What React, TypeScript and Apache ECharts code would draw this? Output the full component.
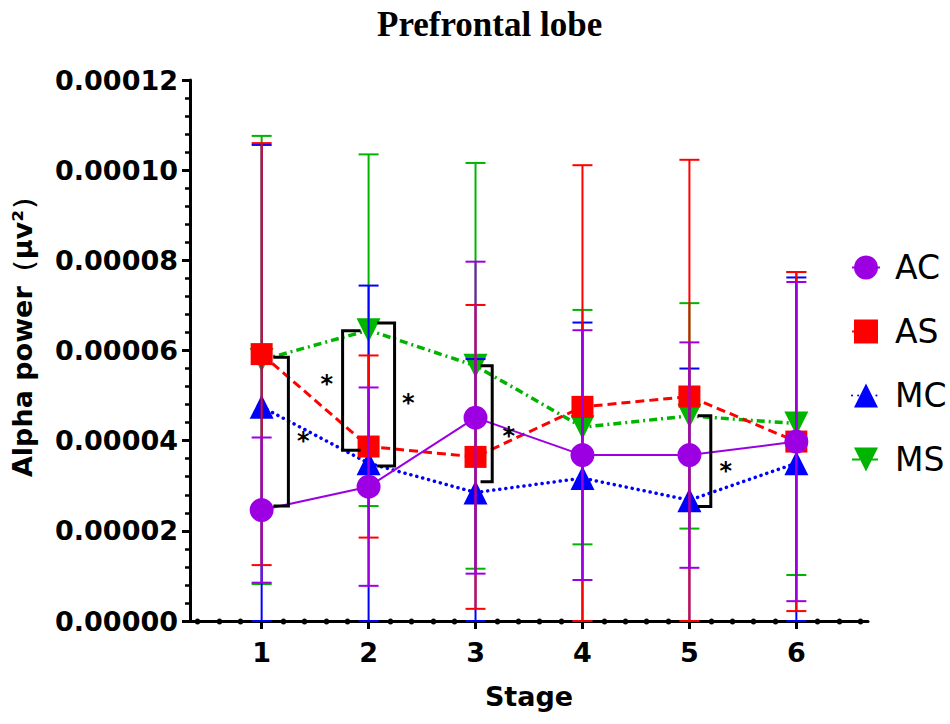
import React, { useEffect, useRef } from "react";
import * as echarts from "echarts";

// ---- data ----
const stages = [1, 2, 3, 4, 5, 6];
const groupNames = ["AC", "AS", "MC", "MS"];
const acMean = [2.46e-5, 2.98e-5, 4.51e-5, 3.68e-5, 3.68e-5, 3.98e-5];
const acSd = [1.61e-5, 2.2e-5, 3.46e-5, 2.77e-5, 2.5e-5, 3.54e-5];
const asMean = [5.92e-5, 3.87e-5, 3.64e-5, 4.75e-5, 4.98e-5, 3.98e-5];
const asSd = [4.68e-5, 2.02e-5, 3.37e-5, 5.36e-5, 5.25e-5, 3.76e-5];
const mcMean = [4.75e-5, 3.5e-5, 2.85e-5, 3.17e-5, 2.68e-5, 3.5e-5];
const mcSd = [5.81e-5, 3.94e-5, 2.96e-5, 3.45e-5, 2.92e-5, 4.12e-5];
const msMean = [5.79e-5, 6.45e-5, 5.66e-5, 4.3e-5, 4.55e-5, 4.38e-5];
const msSd = [4.97e-5, 3.9e-5, 4.5e-5, 2.6e-5, 2.5e-5, 3.36e-5];

// significance brackets: [xVertical, xEnd, yTop, yBottom, xStar, yStar]
const brackets = [
  [1.25, 1.11, 5.85e-5, 2.55e-5, 1.39, 4.13e-5],
  [1.757, 1.925, 6.44e-5, 3.79e-5, 1.61, 5.39e-5],
  [2.243, 2.08, 6.61e-5, 3.44e-5, 2.37, 4.97e-5],
  [3.156, 3.047, 5.66e-5, 3.09e-5, 3.31, 4.24e-5],
  [5.2, 5.08, 4.55e-5, 2.54e-5, 5.34, 3.46e-5],
];

const yTickMax = 0.00012;
const yTickStep = 0.00002;
const xMin = 0.33;
const xMax = 6.67;
const xMinorTicks = [0.4, 0.6, 0.8, 1.2, 1.4, 1.6, 1.8, 2.2, 2.4, 2.6, 2.8, 3.2, 3.4, 3.6, 3.8, 4.2, 4.4, 4.6, 4.8, 5.2, 5.4, 5.6, 5.8, 6.2, 6.4, 6.6];

const colors = { AC: "#9C00E2", AS: "#FF0000", MC: "#0000FF", MS: "#00B400" };
const FONT = "DejaVu Sans";

export default function App() {
  const ref = useRef<HTMLDivElement>(null);
  useEffect(() => {
    if (!ref.current) return;
    const chart = echarts.init(ref.current, undefined, { renderer: "svg" });

    const errSeries = (name: string, mean: number[], sd: number[], z: number) => ({
      type: "custom",
      z,
      xAxisIndex: 0,
      yAxisIndex: 0,
      silent: true,
      encode: { x: 0, y: [1, 2] },
      data: stages.map((s, i) => [s, Math.max(0, mean[i] - sd[i]), mean[i] + sd[i]]),
      renderItem: (params: any, api: any) => {
        const x = api.value(0);
        const lo = api.coord([x, api.value(1)]);
        const hi = api.coord([x, api.value(2)]);
        const w = 10;
        const st = { stroke: (colors as any)[name], lineWidth: 2 };
        return {
          type: "group",
          children: [
            { type: "line", shape: { x1: lo[0], y1: lo[1], x2: hi[0], y2: hi[1] }, style: st },
            { type: "line", shape: { x1: hi[0] - w, y1: hi[1], x2: hi[0] + w, y2: hi[1] }, style: st },
            { type: "line", shape: { x1: lo[0] - w, y1: lo[1], x2: lo[0] + w, y2: lo[1] }, style: st },
          ],
        };
      },
    });

    const lineSeries = (name: string, mean: number[], z: number, symbol: string, size: number, ls: any, rotate = 0) => ({
      type: "line",
      name,
      z,
      data: stages.map((s, i) => [s, mean[i]]),
      symbol,
      symbolSize: size,
      symbolRotate: rotate,
      showAllSymbol: true,
      itemStyle: { color: (colors as any)[name], opacity: 1 },
      lineStyle: { color: (colors as any)[name], ...ls },
      emphasis: { disabled: true },
    });

    const option: any = {
      animation: false,
      title: {
        text: "Prefrontal lobe",
        left: 372,
        top: 2,
        textStyle: { fontFamily: "Liberation Serif", fontWeight: "bold", fontSize: 35, color: "#000" },
      },
      legend: {
        orient: "vertical",
        left: 846,
        top: 246,
        itemWidth: 28,
        itemHeight: 30,
        itemGap: 31,
        data: groupNames,
        textStyle: { fontFamily: FONT, fontSize: 33, color: "#000", padding: [0, 0, 0, 10] },
        selectedMode: false,
      },
      grid: { left: 190, top: 80, right: 82, bottom: 103 },
      xAxis: [
        {
          type: "value",
          min: xMin,
          max: xMax,
          name: "Stage",
          nameLocation: "middle",
          nameGap: 62,
          nameTextStyle: { fontFamily: FONT, fontWeight: "bold", fontSize: 27, color: "#000" },
          axisLine: { show: true, onZero: false, lineStyle: { color: "#000", width: 3 } },
          axisTick: { show: true, customValues: stages, length: 8, lineStyle: { color: "#000", width: 3 } },
          axisLabel: {
            customValues: stages,
            margin: 18,
            fontFamily: FONT,
            fontWeight: "bold",
            fontSize: 27,
            color: "#000",
            formatter: (v: number) => String(Math.round(v)),
          },
          splitLine: { show: false },
        },
        {
          type: "value",
          min: xMin,
          max: xMax,
          position: "bottom",
          offset: 0,
          axisLine: { show: false, onZero: false },
          axisTick: { show: true, customValues: xMinorTicks, length: 1, lineStyle: { color: "#000", width: 5, cap: "round" } },
          axisLabel: { show: false },
          splitLine: { show: false },
        },
      ],
      yAxis: {
        type: "value",
        min: 0,
        max: yTickMax,
        interval: yTickStep,
        axisLine: { show: true, lineStyle: { color: "#000", width: 3 } },
        axisTick: { show: true, length: 8, lineStyle: { color: "#000", width: 3 } },
        minorTick: { show: true, splitNumber: 5, length: 5, lineStyle: { color: "#000", width: 2.5 } },
        axisLabel: {
          margin: 12,
          fontFamily: FONT,
          fontWeight: "bold",
          fontSize: 27,
          color: "#000",
          formatter: (v: number) => v.toFixed(5),
        },
        splitLine: { show: false },
      },
      graphic: [
        {
          type: "text",
          x: 22,
          y: 330,
          rotation: Math.PI / 2,
          style: {
            text: "Alpha power（μv²）",
            fontFamily: FONT,
            fontWeight: "bold",
            fontSize: 27,
            fill: "#000",
            align: "center",
            verticalAlign: "middle",
          },
        },
      ],
      series: [
        errSeries("MS", msMean, msSd, 2),
        lineSeries("MS", msMean, 2, "triangle", 24, { width: 3.5, type: [8, 4, 2, 4] }, 180),
        errSeries("MC", mcMean, mcSd, 3),
        lineSeries("MC", mcMean, 3, "triangle", 24, { width: 3.5, type: [0.1, 6], cap: "round" }),
        errSeries("AS", asMean, asSd, 4),
        lineSeries("AS", asMean, 4, "rect", 22, { width: 3, type: [9, 5] }),
        errSeries("AC", acMean, acSd, 5),
        lineSeries("AC", acMean, 5, "circle", 24, { width: 2, type: "solid" }),
        {
          type: "custom",
          z: 6,
          silent: true,
          encode: { x: [0, 1, 4], y: [2, 3, 5] },
          data: brackets,
          renderItem: (params: any, api: any) => {
            const xv = api.value(0), xe = api.value(1), yt = api.value(2), yb = api.value(3);
            const a = api.coord([xe, yt]);
            const b = api.coord([xv, yt]);
            const c = api.coord([xv, yb]);
            const d = api.coord([xe, yb]);
            const s = api.coord([api.value(4), api.value(5)]);
            return {
              type: "group",
              children: [
                { type: "polyline", shape: { points: [a, b, c, d] }, style: { stroke: "#000", lineWidth: 3, fill: "none" } },
                {
                  type: "text",
                  x: s[0],
                  y: s[1] + 6,
                  style: { text: "*", fontFamily: FONT, fontWeight: "bold", fontSize: 24, fill: "#000", align: "center", verticalAlign: "middle" },
                },
              ],
            };
          },
        },
      ],
    };
    chart.setOption(option);
    return () => chart.dispose();
  }, []);
  return <div ref={ref} style={{ position: "fixed", left: 0, top: 0, width: 950, height: 724, background: "#fff" }} />;
}
